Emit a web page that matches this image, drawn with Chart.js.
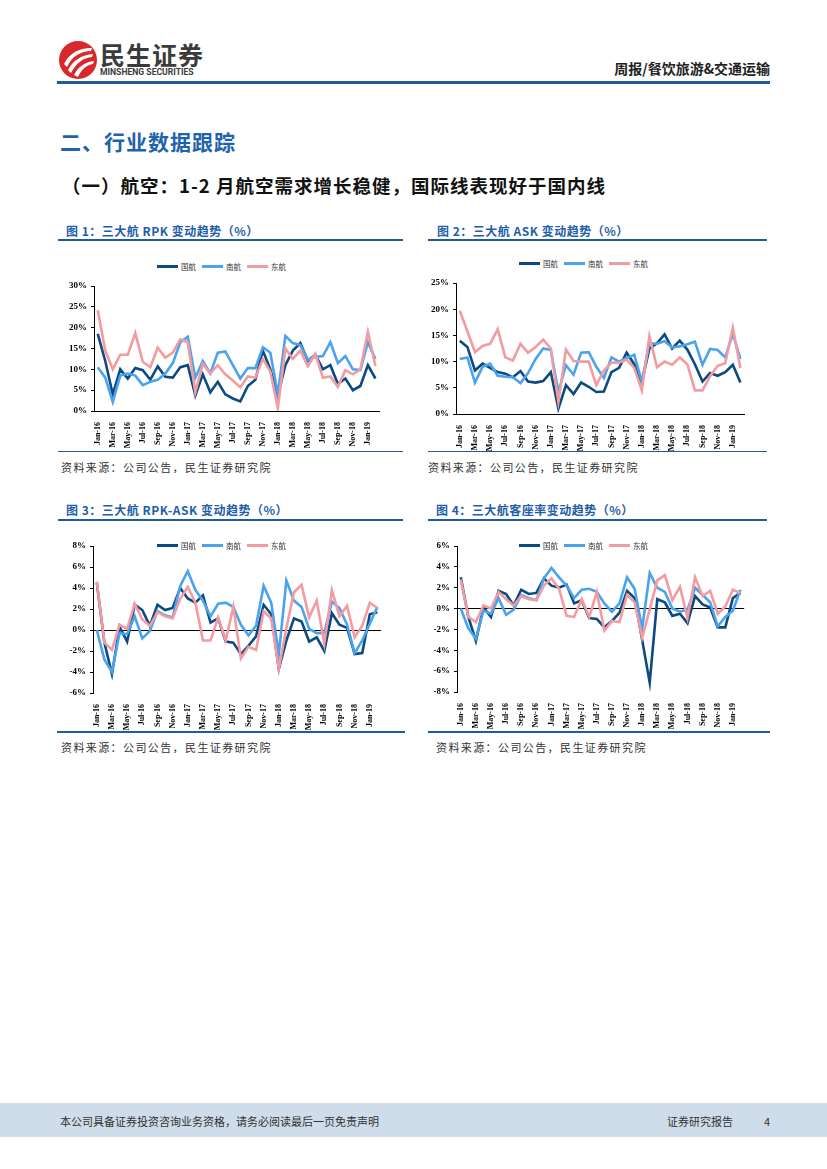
<!DOCTYPE html>
<html>
<head>
<meta charset="utf-8">
<script src="https://cdn.jsdelivr.net/npm/chart.js@4.4.1/dist/chart.umd.min.js"></script>
<style>
body{margin:0;width:827px;height:1169px;position:relative;background:#fff;font-family:"Noto Sans CJK SC",sans-serif;overflow:hidden}
.abs{position:absolute;white-space:nowrap}
.brand{left:100px;top:36px;font-size:25px;font-weight:bold;color:#3b3b3b;letter-spacing:1px}
.brand-en{left:100px;top:67px;font-family:Roboto,sans-serif;font-size:8.6px;font-weight:bold;color:#3b3b3b}
.topic{right:57px;top:58px;font-size:14px;font-weight:bold;color:#222}
.rule{height:2px;background:#1f5d99}
.h1{left:60px;top:126px;font-size:21px;font-weight:bold;color:#1e63ad;letter-spacing:1px}
.h2{left:62px;top:172px;font-size:18.5px;font-weight:bold;color:#111;letter-spacing:1px}
.ftitle{font-size:12px;font-weight:bold;color:#1f5ea8;letter-spacing:.5px}
.src{font-size:11px;color:#333;letter-spacing:1.4px}
.legend{display:flex;align-items:center;font-size:7.5px;color:#333}
.legend span.sw{display:inline-block;width:21px;height:3px;margin-right:3px}
.legend span.lb{margin-right:6px}
.footer{left:0;top:1103px;width:827px;height:34px;background:#cfdcea}
.ftxt{font-size:11px;color:#333;top:1113px}
canvas{position:absolute}
</style>
</head>
<body>
<svg class="abs" style="left:58px;top:40px" width="40" height="40" viewBox="0 0 40 40">
  <circle cx="20" cy="20" r="19" fill="#d7292b"/>
  <path d="M6 24 C12 12 22 8 34 8 L33 11 C23 11 14 16 9 27 Z" fill="#fff"/>
  <path d="M10 30 C15 20 24 15 35 14 L34 17 C25 18 18 23 13 33 Z" fill="#fff"/>
  <path d="M16 35 C20 27 27 22 36 21 L35 24 C28 25 23 30 20 37 Z" fill="#fff"/>
</svg>
<div class="abs brand">民生证券</div>
<div class="abs brand-en">MINSHENG SECURITIES</div>
<div class="abs topic">周报/餐饮旅游&amp;交通运输</div>
<div class="abs rule" style="left:57px;top:81px;width:713px;height:3px"></div>

<div class="abs h1">二、行业数据跟踪</div>
<div class="abs h2">（一）航空：1-2 月航空需求增长稳健，国际线表现好于国内线</div>

<div class="abs ftitle" style="left:66px;top:222px">图 1：三大航 RPK 变动趋势（%）</div>
<div class="abs rule" style="left:58px;top:239px;width:345px"></div>
<div class="abs ftitle" style="left:437px;top:222px">图 2：三大航 ASK 变动趋势（%）</div>
<div class="abs rule" style="left:428px;top:239px;width:339px"></div>

<div class="abs legend" id="lg1" style="left:157px;top:261px"></div>
<div class="abs legend" id="lg2" style="left:519px;top:258px"></div>
<canvas id="c1" width="330" height="172" style="left:58px;top:276px"></canvas>
<canvas id="c2" width="333" height="178" style="left:420px;top:273px"></canvas>

<div class="abs rule" style="left:58px;top:451px;width:345px;height:1px"></div>
<div class="abs rule" style="left:428px;top:451px;width:339px;height:1px"></div>
<div class="abs src" style="left:61px;top:459px">资料来源：公司公告，民生证券研究院</div>
<div class="abs src" style="left:428px;top:459px">资料来源：公司公告，民生证券研究院</div>

<div class="abs ftitle" style="left:66px;top:501px">图 3：三大航 RPK-ASK 变动趋势（%）</div>
<div class="abs rule" style="left:58px;top:519px;width:345px"></div>
<div class="abs ftitle" style="left:436px;top:501px">图 4：三大航客座率变动趋势（%）</div>
<div class="abs rule" style="left:428px;top:519px;width:339px"></div>

<canvas id="c3" width="333" height="194" style="left:57px;top:536px"></canvas>
<canvas id="c4" width="332" height="193" style="left:421px;top:536px"></canvas>
<div class="abs legend" id="lg3" style="left:157px;top:540px"></div>
<div class="abs legend" id="lg4" style="left:519px;top:540px"></div>

<div class="abs rule" style="left:57px;top:731px;width:348px"></div>
<div class="abs rule" style="left:428px;top:731px;width:342px"></div>
<div class="abs src" style="left:61px;top:739px">资料来源：公司公告，民生证券研究院</div>
<div class="abs src" style="left:436px;top:739px">资料来源：公司公告，民生证券研究院</div>

<div class="abs footer"></div>
<div class="abs ftxt" style="left:60px">本公司具备证券投资咨询业务资格，请务必阅读最后一页免责声明</div>
<div class="abs ftxt" style="left:667px">证券研究报告</div>
<div class="abs ftxt" style="left:764px">4</div>

<script>
const months = ['Jan-16','Feb-16','Mar-16','Apr-16','May-16','Jun-16','Jul-16','Aug-16','Sep-16','Oct-16','Nov-16','Dec-16',
  'Jan-17','Feb-17','Mar-17','Apr-17','May-17','Jun-17','Jul-17','Aug-17','Sep-17','Oct-17','Nov-17','Dec-17',
  'Jan-18','Feb-18','Mar-18','Apr-18','May-18','Jun-18','Jul-18','Aug-18','Sep-18','Oct-18','Nov-18','Dec-18',
  'Jan-19','Feb-19'];
const airlines = ['国航', '南航', '东航'];
const colors = ['#0c4a82', '#4ba3ee', '#f39ba0'];

// 图1 RPK 同比 (%)
const rpkCA = [18.5,12,4,10,7.8,10.3,9.8,7.5,10.7,8.2,8,10.5,11,3.7,8.8,4.5,7,4,3,2.3,6,7.5,14.5,10,3.7,11,14.5,16.3,12,13.5,10,11,6.5,7.8,5,6,11,7.8];
const rpkCZ = [10.5,8,2.2,8.5,9,8.5,6.2,7,7.5,9,11.5,16.5,17.8,8,12,9,14,14.3,11,7.8,10.3,10.3,15.3,14,4,18,16.3,15.8,12.3,13,13.2,16.5,11.5,13.2,10,9.8,16.5,12.5];
const rpkMU = [24.2,14.5,10,13.5,13.5,18.7,11.8,10.5,15.2,12.8,14,17.2,16.5,4.5,11.3,9,11,8.8,7.3,5.7,8.3,8,12.5,9.5,0.7,15,12.5,14.5,10.8,13.7,8,8.3,5.8,9.8,8.8,10,19,10.8];

// 图2 ASK 同比 (%)
const askCA = [14,12.8,8.3,9.6,8.8,8,7.7,7,8.2,6.2,6,6.3,8,1,5.5,3.8,6,5.2,4.2,4.3,8,8.8,11.7,9.5,6,12.5,13.5,15.2,12.5,14,12.3,9.5,6.2,7.8,7.3,8,9.4,6];
const askCZ = [10.5,10.8,6,9,9.6,7.3,7.1,7,5.9,7.8,10.5,12.5,12.2,4.2,9.3,7.5,11.7,11.8,9,6.9,10.8,10,10.7,11.3,6.2,13.5,13.4,13.9,12.7,12.9,13.3,13.8,9.4,12.4,12.2,10.8,15.3,10.5];
const askMU = [19.7,15.8,11.8,13,13.4,16.2,10.8,10.2,13.4,11.7,12.8,14.2,12.5,2.3,12.3,10.1,10,10,5.5,8.3,9.8,9.8,10.4,8.8,4.5,14.9,8.9,10,9.4,10.8,9.5,4.5,4.5,7.2,9.2,9.7,16.5,8.8];

// 图3 RPK-ASK (pct)
const gapCA = [4.5,-1.2,-4.2,0.3,-1.1,2.4,1.9,0.4,2.4,1.9,2.1,4,3,2.6,3.3,0.7,1.1,-1.1,-1.2,-2.3,-1.5,-0.6,2.4,1.5,-3.7,-1,1.1,0.8,-1.1,-0.7,-2,1.6,0.5,0.2,-2.3,-2.2,1.5,1.7];
const gapCZ = [0,-2.8,-4,-0.3,-0.4,1.3,-0.8,-0.1,1.8,1.4,1.2,4.2,5.6,3.8,2.8,1.3,2.5,2.6,2.2,0.5,-0.5,0.4,4.2,2.6,-2.3,4.7,2.8,2.2,0.1,-0.3,-0.3,2.7,2.1,0.5,-2.2,-1,0.6,2.2];
const gapMU = [4.6,-1.2,-1.9,0.5,0.1,2.5,1,0.4,1.7,1.3,1.1,3,4.1,2.6,-1,-1,1.2,-1,2.2,-2.7,-1.6,-1.9,1.8,1.1,-3.7,0.2,3.6,4.3,1.2,2.8,-1.3,3.8,1.3,2.3,-0.7,0.4,2.6,2.1];

// 图4 客座率变动 (pct)
const lfCA = [3,-0.8,-3.1,0.1,-0.8,1.7,1.4,0.3,1.8,1.4,1.5,2.9,2.2,2,2.3,0.5,0.8,-0.9,-1,-1.8,-1.2,-0.4,1.7,1,-3,-7.1,0.9,0.6,-0.7,-0.5,-1.4,1.2,0.4,0.1,-1.8,-1.8,1,1.5];
const lfCZ = [0,-1.9,-2.9,-0.2,-0.5,1,-0.6,-0.1,1.3,1,0.8,2.9,3.9,3,2.2,1,1.8,1.9,1.6,0.5,-0.3,0.5,3,1.9,-1.9,3.4,2,1.6,0,-0.3,-0.1,2,1.3,0.6,-1.7,-0.8,-0.2,1.8];
const lfMU = [2.8,-0.8,-1.3,0.3,0,1.6,0.9,0.3,1.2,0.9,0.8,2.2,2.9,1.9,-0.7,-0.8,0.9,-0.8,1.6,-2.1,-1.2,-1.3,1.3,0.6,-2.8,-0.1,2.7,3.2,0.8,2.1,-0.9,3,1.2,1.7,-0.5,0.2,1.8,1.5];

function buildLegend(id) {
  const box = document.getElementById(id);
  airlines.forEach((name, i) => {
    box.insertAdjacentHTML('beforeend',
      `<span class="sw" style="background:${colors[i]}"></span><span class="lb">${name}</span>`);
  });
}

const tickFont = { family: 'Liberation Serif', weight: 'bold', size: 9 };

function drawLines(canvasId, series, yMin, yMax, yStep, zeroInside) {
  return new Chart(document.getElementById(canvasId), {
    type: 'line',
    data: {
      labels: months,
      datasets: series.map((vals, i) => ({
        label: airlines[i],
        data: vals,
        borderColor: colors[i],
        borderWidth: 2.6,
        pointRadius: 0,
        tension: 0,
        fill: false,
        order: 3 - i,
      })),
    },
    options: {
      responsive: false,
      animation: false,
      layout: { padding: { top: 10, left: 0, right: 0, bottom: 0 } },
      plugins: { legend: { display: false }, tooltip: { enabled: false } },
      scales: {
        x: {
          offset: true,
          grid: { display: false },
          border: { display: !zeroInside, color: '#000', width: 1 },
          ticks: {
            autoSkip: false, maxRotation: 90, minRotation: 90, padding: 3,
            font: { family: 'Liberation Serif', weight: 'bold', size: 8 }, color: '#000',
            callback: (v, i) => (i % 2 === 0 ? months[i] : ''),
          },
          afterFit: s => { s.height = 37; },
        },
        y: {
          min: yMin, max: yMax,
          border: { color: '#000', width: 1 },
          grid: {
            tickLength: 3, tickColor: '#000',
            color: c => (zeroInside && c.tick && c.tick.value === 0 ? '#000' : 'rgba(0,0,0,0)'),
          },
          ticks: { stepSize: yStep, padding: 4, font: tickFont, color: '#000', callback: v => v + '%' },
          afterFit: s => { s.width = 36; },
        },
      },
    },
  });
}

['lg1', 'lg2', 'lg3', 'lg4'].forEach(buildLegend);
drawLines('c1', [rpkCA, rpkCZ, rpkMU], 0, 30, 5, false);
drawLines('c2', [askCA, askCZ, askMU], 0, 25, 5, false);
drawLines('c3', [gapCA, gapCZ, gapMU], -6, 8, 2, true);
drawLines('c4', [lfCA, lfCZ, lfMU], -8, 6, 2, true);
</script>
</body>
</html>
